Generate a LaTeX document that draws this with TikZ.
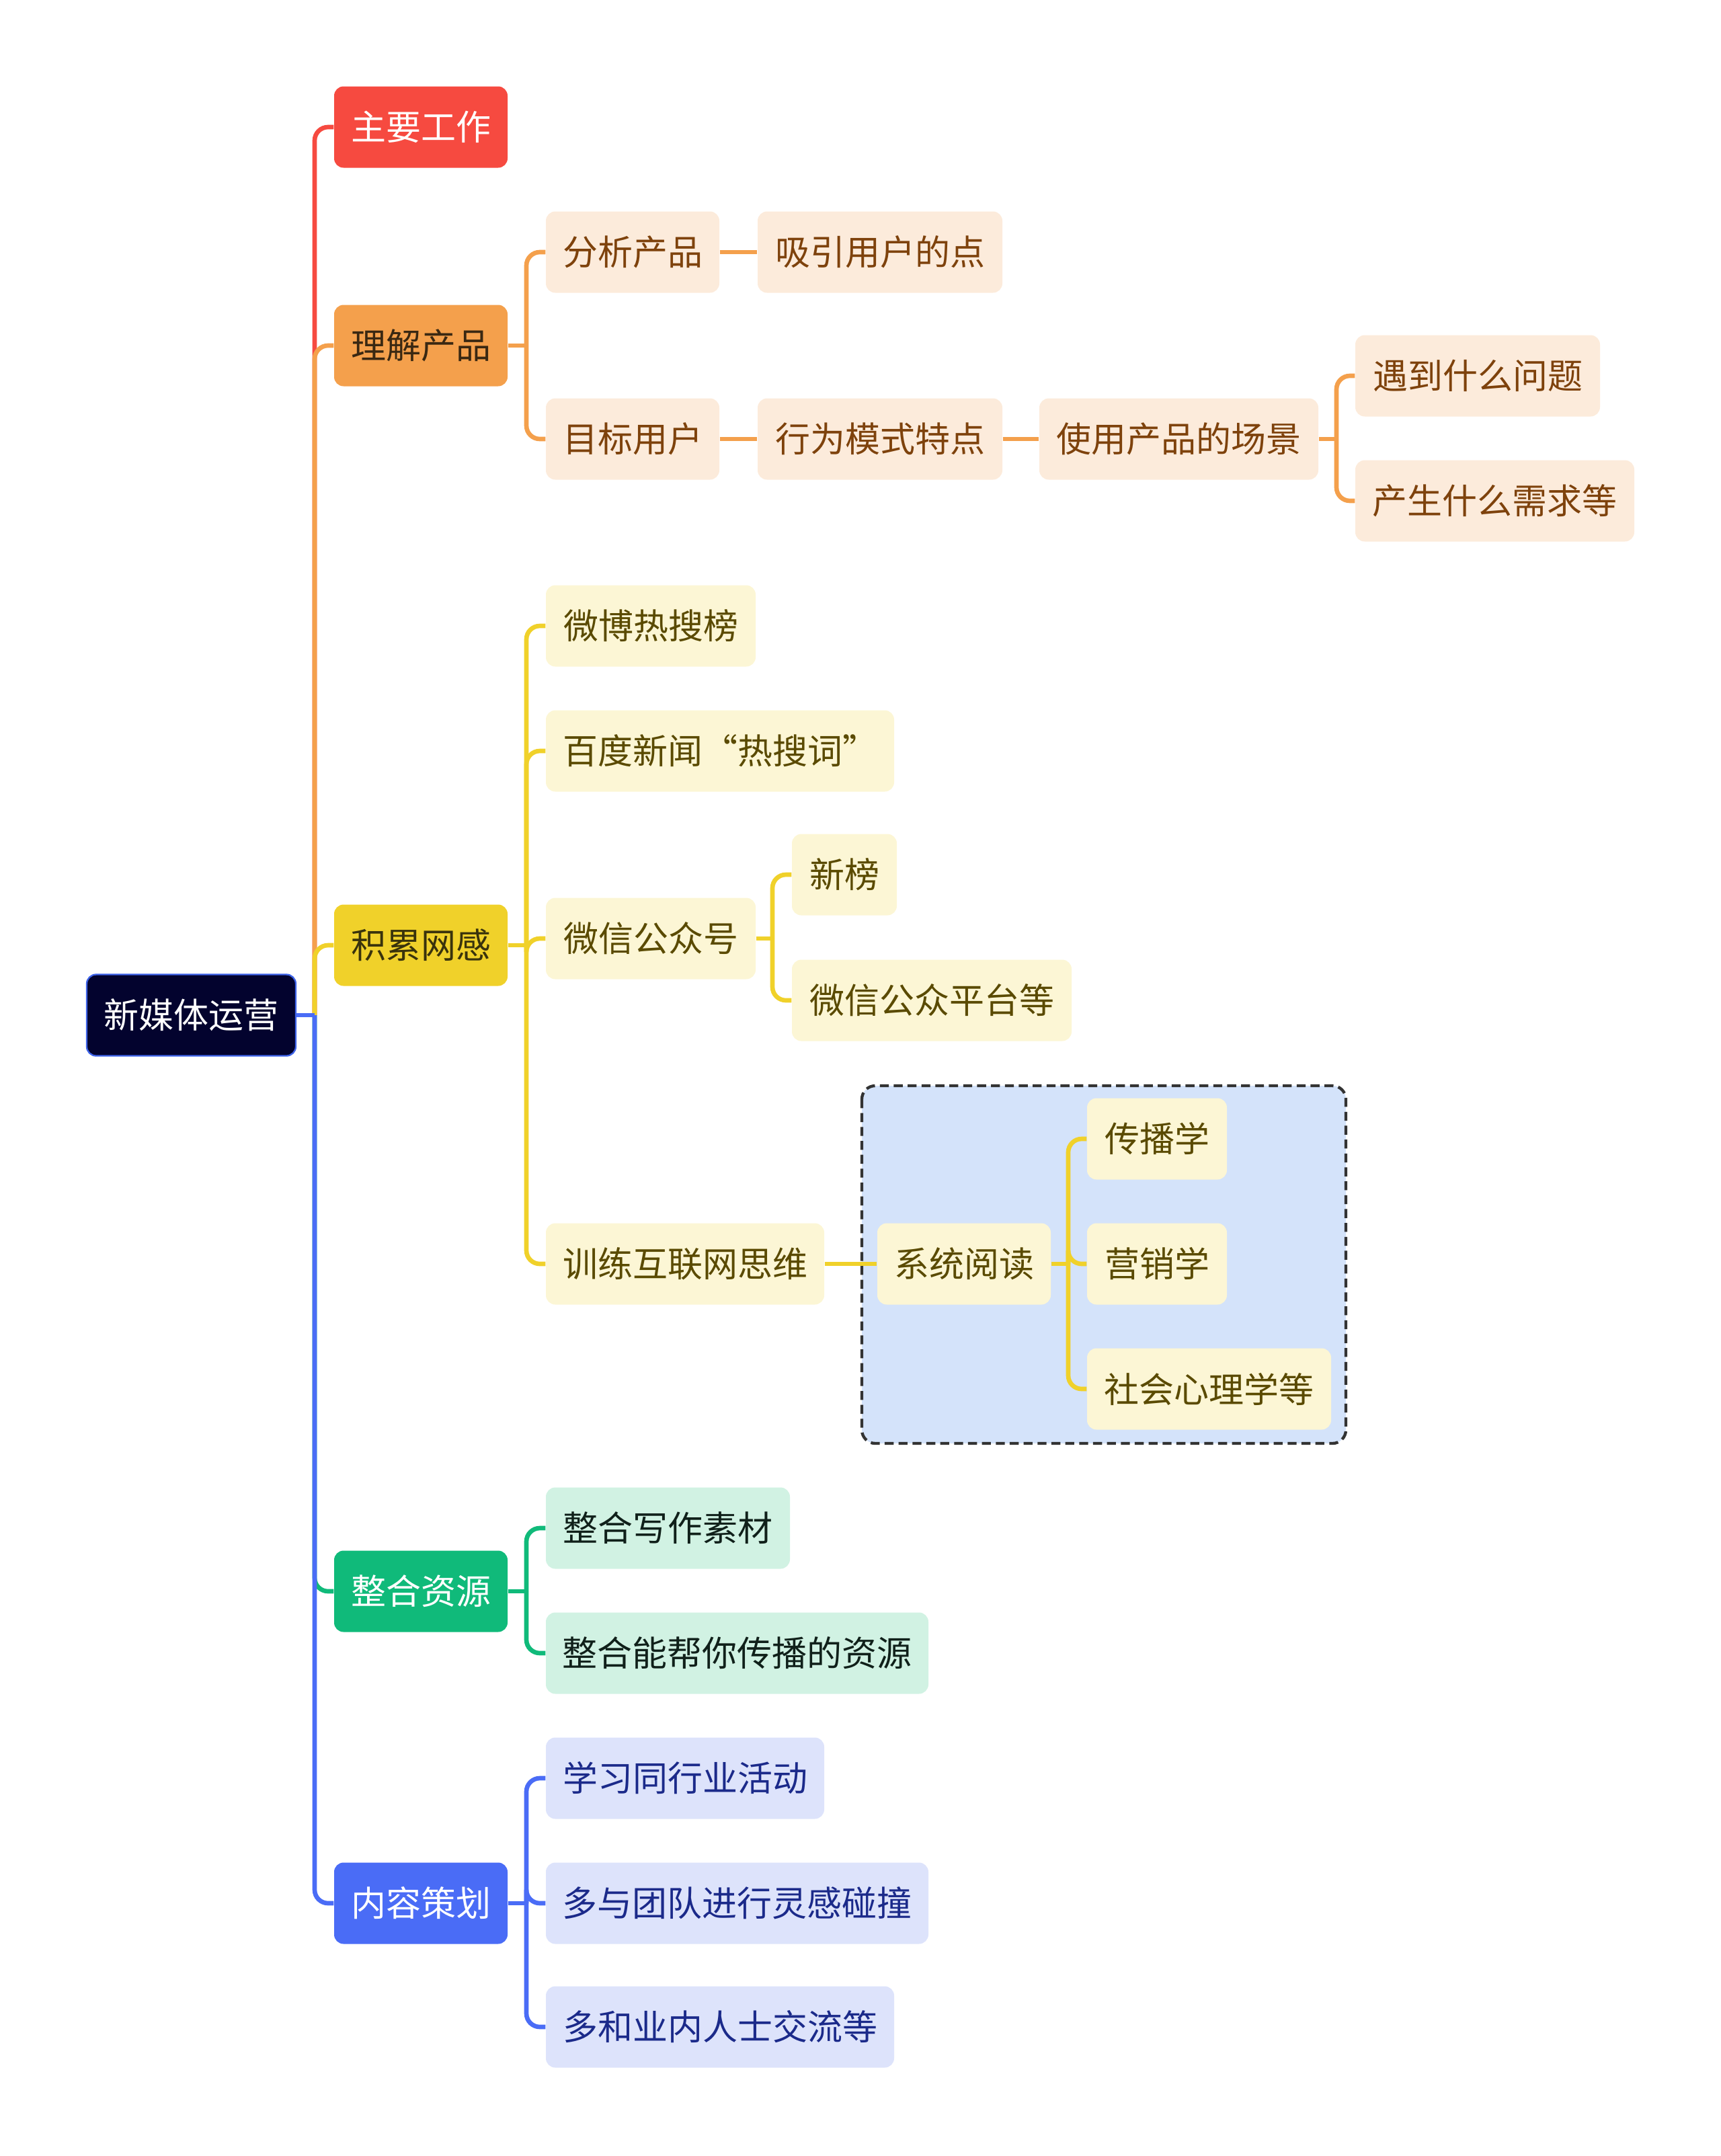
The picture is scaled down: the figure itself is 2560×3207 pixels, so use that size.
\documentclass[tikz,border=0pt]{standalone}
\usepackage{fontspec}
\setmainfont{Noto Sans CJK SC}
\newfontfamily\fwfont[RawFeature=+fwid]{Noto Sans CJK SC}
\definecolor{cRed}{HTML}{F64A40}
\definecolor{cOrange}{HTML}{F4A04C}
\definecolor{cYellow}{HTML}{F0D12A}
\definecolor{cGreen}{HTML}{10BA7A}
\definecolor{cBlue}{HTML}{4A6CF6}
\definecolor{cRoot}{HTML}{03032E}
\definecolor{cRootBorder}{HTML}{3E63E8}
\definecolor{lOrange}{HTML}{FCEBDB}
\definecolor{lYellow}{HTML}{FCF6D5}
\definecolor{lGreen}{HTML}{D1F2E3}
\definecolor{lBlue}{HTML}{DDE3FB}
\definecolor{lBox}{HTML}{D4E3FA}
\definecolor{tOrange}{HTML}{7E420C}
\definecolor{tYellow}{HTML}{5A4A00}
\definecolor{tGreen}{HTML}{10201A}
\definecolor{tBlue}{HTML}{1B2A8A}
\definecolor{tOrangeL1}{HTML}{3A2812}
\definecolor{tYellowL1}{HTML}{39330C}
\begin{document}
\begin{tikzpicture}[x=0.3pt,y=-0.3pt,
  base/.style={rounded corners=4.2pt, inner sep=0pt, minimum height=36.3pt,
    font=\fontsize{15.6pt}{18pt}\selectfont, align=center},
  bw/.style={minimum width=#1*0.3pt},
  rootbox/.style={base, fill=cRoot, draw=cRootBorder, line width=0.7pt, text=white},
  redbox/.style={base, fill=cRed, text=white},
  orangebox/.style={base, fill=cOrange, text=tOrangeL1},
  yellowbox/.style={base, fill=cYellow, text=tYellowL1},
  greenbox/.style={base, fill=cGreen, text=white},
  bluebox/.style={base, fill=cBlue, text=white},
  osub/.style={base, fill=lOrange, text=tOrange},
  ysub/.style={base, fill=lYellow, text=tYellow},
  gsub/.style={base, fill=lGreen, text=tGreen},
  bsub/.style={base, fill=lBlue, text=tBlue},
  link/.style={line width=2pt, rounded corners=6pt},
  rline/.style={link, draw=cRed},
  oline/.style={link, draw=cOrange},
  yline/.style={link, draw=cYellow},
  gline/.style={link, draw=cGreen},
  bline/.style={link, draw=cBlue},
  groupbox/.style={fill=lBox, draw=black!80, dash pattern=on 4pt off 2.2pt, line width=1.3pt, rounded corners=6pt}
]
\useasboundingbox (0,0) rectangle (2560,3207);

% dashed group box
\draw[groupbox] (1282,1615) rectangle (2002,2147);

% root
\node[rootbox, bw=311] (root) at (284.5,1510) {新媒体运营};

% level 1
\node[redbox, bw=258] (zy) at (626,189) {主要工作};
\node[orangebox, bw=258] (lj) at (626,514) {理解产品};
\node[yellowbox, bw=258] (jl) at (626,1406) {积累网感};
\node[greenbox, bw=258] (zh) at (626,2367) {整合资源};
\node[bluebox, bw=258] (nr) at (626,2831) {内容策划};

% orange branch
\node[osub, bw=258] (fx) at (941,375) {分析产品};
\node[osub, bw=364] (xy) at (1309,375) {吸引用户的点};
\node[osub, bw=258] (mb) at (941,653) {目标用户};
\node[osub, bw=364] (xw) at (1309,653) {行为模式特点};
\node[osub, bw=415] (sy) at (1753.5,653) {使用产品的场景};
\node[osub, bw=364] (yd) at (2198,559) {遇到什么问题};
\node[osub, bw=415] (cs) at (2223.5,745) {产生什么需求等};

% yellow branch
\node[ysub, bw=312] (wb) at (968,931) {微博热搜榜};
\node[ysub, bw=518] (bd) at (1071,1117) {百度新闻{\fwfont “热搜词”}};
\node[ysub, bw=312] (wx) at (968,1396) {微信公众号};
\node[ysub, bw=156] (xb) at (1256,1301) {新榜};
\node[ysub, bw=416] (wp) at (1386,1488) {微信公众平台等};
\node[ysub, bw=414] (xl) at (1019,1880) {训练互联网思维};
\node[ysub, bw=258] (xt) at (1434,1880) {系统阅读};
\node[ysub, bw=208] (cb) at (1721,1694) {传播学};
\node[ysub, bw=208] (yx) at (1721,1880) {营销学};
\node[ysub, bw=363] (sh) at (1798.5,2066) {社会心理学等};

% green branch
\node[gsub, bw=363] (zx) at (993.5,2273) {整合写作素材};
\node[gsub, bw=569] (zn) at (1096.5,2459) {整合能帮你传播的资源};

% blue branch
\node[bsub, bw=414] (xx) at (1019,2645) {学习同行业活动};
\node[bsub, bw=569] (dy) at (1096.5,2831) {多与团队进行灵感碰撞};
\node[bsub, bw=518] (dh) at (1071,3015) {多和业内人士交流等};

% junction coordinates
\coordinate (j0) at (468,1510);
\coordinate (jA) at (783,514);
\coordinate (jB) at (783,1406);
\coordinate (jC) at (783,2367);
\coordinate (jD) at (783,2831);
\coordinate (jE) at (1149,1396);
\coordinate (jF) at (1589,1880);
\coordinate (jG) at (1988,653);

% trunk
\draw[rline] (j0) |- (zy.west);
\draw[oline] (j0) |- (lj.west);
\draw[yline] (j0) |- (jl.west);
\draw[gline] (j0) |- (zh.west);
\draw[bline] (j0) |- (nr.west);
\draw[bline] (root.east) -- (j0);

% orange connectors
\draw[oline] (lj.east) -- (jA);
\draw[oline] (jA) |- (fx.west);
\draw[oline] (jA) |- (mb.west);
\draw[oline] (fx.east) -- (xy.west);
\draw[oline] (mb.east) -- (xw.west);
\draw[oline] (xw.east) -- (sy.west);
\draw[oline] (sy.east) -- (jG);
\draw[oline] (jG) |- (yd.west);
\draw[oline] (jG) |- (cs.west);

% yellow connectors
\draw[yline] (jl.east) -- (jB);
\draw[yline] (jB) |- (wb.west);
\draw[yline] (jB) |- (bd.west);
\draw[yline] (jB) |- (wx.west);
\draw[yline] (jB) |- (xl.west);
\draw[yline] (wx.east) -- (jE);
\draw[yline] (jE) |- (xb.west);
\draw[yline] (jE) |- (wp.west);
\draw[yline] (xl.east) -- (xt.west);
\draw[yline] (xt.east) -- (jF);
\draw[yline] (jF) |- (cb.west);
\draw[yline] (jF) |- (yx.west);
\draw[yline] (jF) |- (sh.west);

% green connectors
\draw[gline] (zh.east) -- (jC);
\draw[gline] (jC) |- (zx.west);
\draw[gline] (jC) |- (zn.west);

% blue connectors
\draw[bline] (nr.east) -- (jD);
\draw[bline] (jD) |- (xx.west);
\draw[bline] (jD) |- (dy.west);
\draw[bline] (jD) |- (dh.west);
\end{tikzpicture}
\end{document}
